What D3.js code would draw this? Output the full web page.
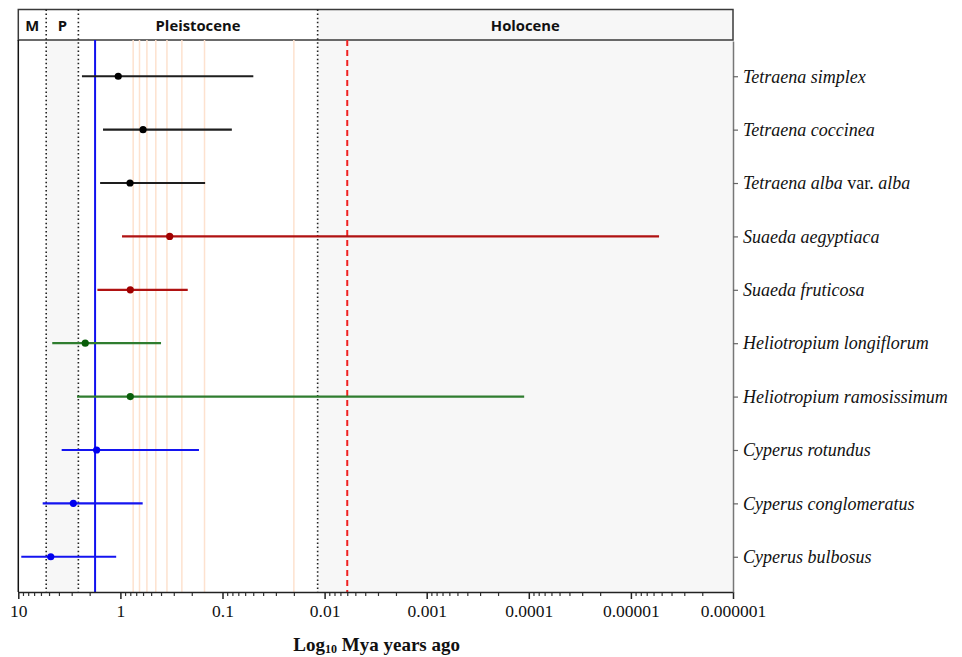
<!DOCTYPE html>
<html>
<head>
<meta charset="utf-8">
<script src="https://cdn.jsdelivr.net/npm/d3@7"></script>
<style>
  html, body { margin: 0; padding: 0; background: #fff; }
  svg { display: block; }
</style>
</head>
<body>
<svg id="chart" width="962" height="657"></svg>
<script>
// Divergence-time estimates (Mya): older bound, mean, younger bound
const species = [
  "Tetraena simplex", "Tetraena coccinea", "Tetraena alba var. alba",
  "Suaeda aegyptiaca", "Suaeda fruticosa",
  "Heliotropium longiflorum", "Heliotropium ramosissimum",
  "Cyperus rotundus", "Cyperus conglomeratus", "Cyperus bulbosus"
];
const genus = ["Tetraena", "Tetraena", "Tetraena", "Suaeda", "Suaeda",
  "Heliotropium", "Heliotropium", "Cyperus", "Cyperus", "Cyperus"];
const olderBound = [2.38, 1.48, 1.58, 0.964, 1.68, 4.65, 2.66, 3.76, 5.77, 9.35];
const meanAge    = [1.05, 0.60, 0.805, 0.329, 0.80, 2.21, 0.80, 1.71, 2.89, 4.81];
const youngerBound = [0.0499, 0.081, 0.148, 0.0000053, 0.219, 0.40, 0.000111, 0.170, 0.605, 1.10];

// Epochs on the time axis
const epochNames = ["M", "P", "Pleistocene", "Holocene"];
const epochStart = [10, 5.33, 2.58, 0.0117];
const epochEnd   = [5.33, 2.58, 0.0117, 0.000001];
const epochBoundaries = [5.33, 2.58, 0.0117];

// Glacial maxima and other reference times (Mya)
const glacialLines = [0.75, 0.65, 0.55, 0.45, 0.35, 0.25, 0.15, 0.02];
const blueLine = 1.77;
const redLine = 0.006;

const tickValues = [10, 1, 0.1, 0.01, 0.001, 0.0001, 0.00001, 0.000001];
const tickLabels = ["10", "1", "0.1", "0.01", "0.001", "0.0001", "0.00001", "0.000001"];

const genusLine = { Tetraena: "#1e1e1e", Suaeda: "#b01212", Heliotropium: "#2f7d2f", Cyperus: "#1414f0" };
const genusDot  = { Tetraena: "#000000", Suaeda: "#a00000", Heliotropium: "#0a5e0a", Cyperus: "#0000ee" };

const svg = d3.select("#chart");
const plotLeft = 18.3, plotRight = 733, plotTop = 40, plotBottom = 592, headTop = 9.5;

const x = d3.scaleLog().domain([10, 0.000001]).range([plotLeft, plotRight]);
const y = d3.scalePoint().domain(species).range([plotTop + 1, plotBottom]).padding(0.66);

// Shaded regions: Pliocene column and Holocene
const shaded = [1, 3];
svg.append("g").selectAll("rect").data(shaded).join("rect")
  .attr("x", i => x(epochStart[i]))
  .attr("y", plotTop)
  .attr("width", i => x(epochEnd[i]) - x(epochStart[i]))
  .attr("height", plotBottom - plotTop)
  .attr("fill", "#f7f7f7");

// Header band
svg.append("rect")
  .attr("x", x(epochStart[3])).attr("y", headTop)
  .attr("width", x(epochEnd[3]) - x(epochStart[3])).attr("height", plotTop - headTop)
  .attr("fill", "#f7f7f7");
svg.append("rect")
  .attr("x", plotLeft).attr("y", headTop)
  .attr("width", plotRight - plotLeft).attr("height", plotTop - headTop)
  .attr("fill", "none").attr("stroke", "#3a3a3a").attr("stroke-width", 1.5);
svg.append("g").selectAll("text").data(epochNames).join("text")
  .attr("x", (d, i) => (x(epochStart[i]) + x(epochEnd[i])) / 2)
  .attr("y", 31)
  .attr("text-anchor", "middle")
  .attr("font-family", "'Open Sans', sans-serif")
  .attr("font-weight", 700)
  .attr("font-size", 14.8)
  .attr("fill", "#111")
  .text(d => d);

// Glacial lines
svg.append("g").selectAll("line").data(glacialLines).join("line")
  .attr("x1", d => x(d)).attr("x2", d => x(d))
  .attr("y1", plotTop).attr("y2", plotBottom)
  .attr("stroke", "#fde2cf").attr("stroke-width", 1.5);

// Epoch boundaries (dotted)
svg.append("g").selectAll("line").data(epochBoundaries).join("line")
  .attr("x1", d => x(d)).attr("x2", d => x(d))
  .attr("y1", headTop).attr("y2", plotBottom)
  .attr("stroke", "#222").attr("stroke-width", 1.6)
  .attr("stroke-dasharray", "1.5,2.6");

// Reference lines
svg.append("line")
  .attr("x1", x(blueLine)).attr("x2", x(blueLine))
  .attr("y1", plotTop).attr("y2", plotBottom)
  .attr("stroke", "#1010ee").attr("stroke-width", 2);
svg.append("line")
  .attr("x1", x(redLine)).attr("x2", x(redLine))
  .attr("y1", plotTop).attr("y2", plotBottom)
  .attr("stroke", "#f02020").attr("stroke-width", 2)
  .attr("stroke-dasharray", "6,4");

// Interval bars with mean points
const rows = svg.append("g").selectAll("g").data(species).join("g");
rows.append("line")
  .attr("x1", (d, i) => x(olderBound[i]))
  .attr("x2", (d, i) => x(youngerBound[i]))
  .attr("y1", d => y(d)).attr("y2", d => y(d))
  .attr("stroke", (d, i) => genusLine[genus[i]])
  .attr("stroke-width", 2.2);
rows.append("circle")
  .attr("cx", (d, i) => x(meanAge[i]))
  .attr("cy", d => y(d))
  .attr("r", 3.6)
  .attr("fill", (d, i) => genusDot[genus[i]]);

// Plot frame: left edge
svg.append("line")
  .attr("x1", plotLeft).attr("x2", plotLeft).attr("y1", plotTop).attr("y2", plotBottom)
  .attr("stroke", "#111").attr("stroke-width", 1.5);

// Bottom axis: minor then major ticks
const minor = x.ticks().filter(v => !tickValues.some(t => Math.abs(Math.log10(v) - Math.log10(t)) < 1e-6));
const minorAxis = svg.append("g").attr("transform", `translate(0,${plotBottom})`)
  .call(d3.axisBottom(x).tickValues(minor).tickSize(4).tickFormat(""));
minorAxis.select(".domain").remove();
minorAxis.selectAll("line").attr("stroke", "#333").attr("stroke-width", 1.2);

const majorAxis = svg.append("g").attr("transform", `translate(0,${plotBottom})`)
  .call(d3.axisBottom(x).tickValues(tickValues).tickSize(7).tickSizeOuter(0)
    .tickFormat((d, i) => tickLabels[i]));
majorAxis.select(".domain").attr("stroke", "#222").attr("stroke-width", 1.5);
majorAxis.selectAll("line").attr("stroke", "#222").attr("stroke-width", 1.5);
majorAxis.selectAll("text")
  .attr("font-family", "'Liberation Serif', 'Times New Roman', serif")
  .attr("font-size", 17.5)
  .attr("fill", "#111")
  .attr("dy", "0.85em");

// Right axis with species names
const rightAxis = svg.append("g").attr("transform", `translate(${plotRight},0)`)
  .call(d3.axisRight(y).tickSize(5).tickSizeOuter(0).tickFormat(""));
rightAxis.select(".domain").attr("stroke", "#777").attr("stroke-width", 1.5);
rightAxis.selectAll("line").attr("stroke", "#666").attr("stroke-width", 1.2);

const names = svg.append("g").selectAll("text").data(species).join("text")
  .attr("x", plotRight + 10)
  .attr("y", d => y(d))
  .attr("dy", "0.35em")
  .attr("font-family", "'Liberation Serif', 'Times New Roman', serif")
  .attr("font-size", 18)
  .attr("fill", "#111");
names.each(function (d) {
  const t = d3.select(this);
  const m = d.match(/^(.*) var\. (.*)$/);
  if (m) {
    t.append("tspan").attr("font-style", "italic").text(m[1] + " ");
    t.append("tspan").text("var. ");
    t.append("tspan").attr("font-style", "italic").text(m[2]);
  } else {
    t.append("tspan").attr("font-style", "italic").text(d);
  }
});

// Axis title
const title = svg.append("text")
  .attr("x", (plotLeft + plotRight) / 2 + 1)
  .attr("y", 651)
  .attr("text-anchor", "middle")
  .attr("font-family", "'Liberation Serif', 'Times New Roman', serif")
  .attr("font-weight", 700)
  .attr("font-size", 19)
  .attr("fill", "#111");
title.append("tspan").text("Log");
title.append("tspan").attr("font-size", 12).attr("dy", 2).text("10");
title.append("tspan").attr("dy", -2).text(" Mya years ago");
</script>
</body>
</html>
